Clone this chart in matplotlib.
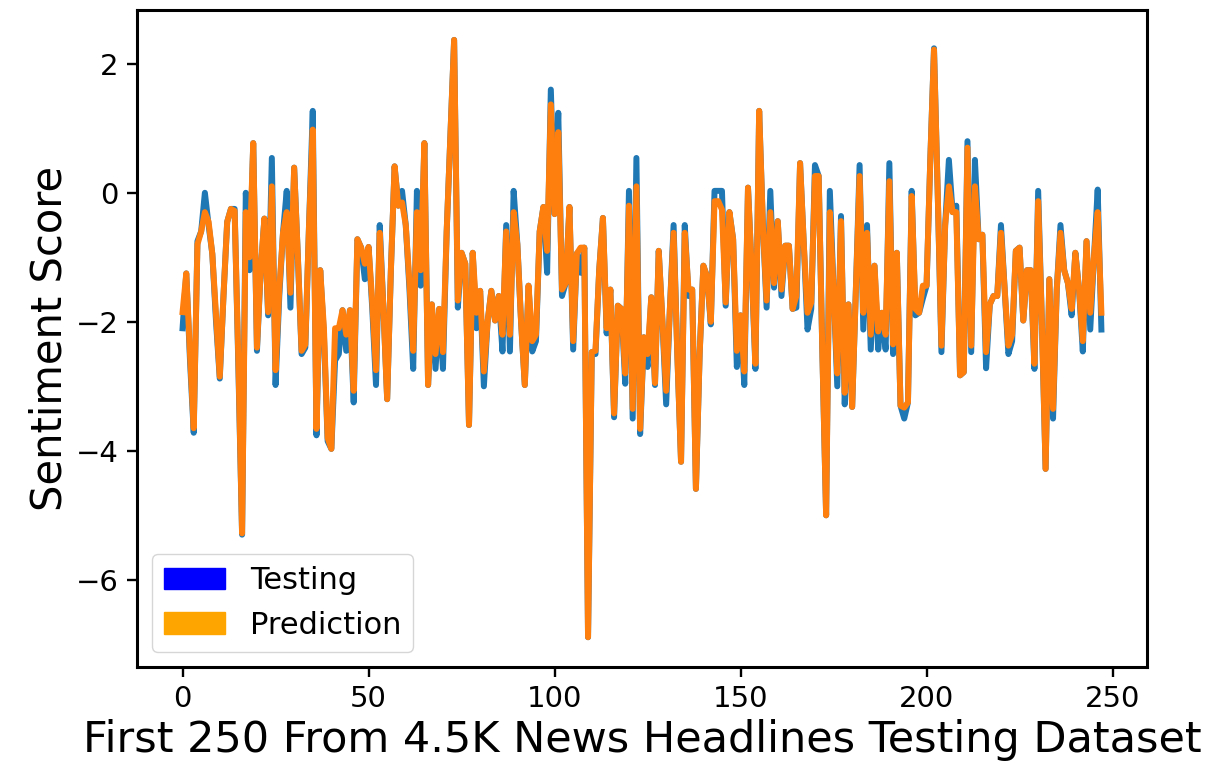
import matplotlib
matplotlib.use("Agg")
import matplotlib.pyplot as plt
import matplotlib.patches as mpatches

# sentiment scores of the first headlines of the testing set
testing = [
    -2.1, -1.25, -2.6, -3.72, -0.75, -0.6, 0.0, -0.5, -0.95, -2.0,
    -2.88, -1.6, -0.45, -0.25, -0.25, -2.7, -5.3, 0.0, -1.2, 0.77,
    -2.45, -1.2, -0.4, -1.9, 0.54, -2.98, -1.6, -0.62, 0.03, -1.78,
    0.39, -1.0, -2.5, -2.4, -0.5, 1.27, -3.76, -1.2, -2.2, -3.85,
    -3.97, -2.6, -2.5, -1.82, -2.45, -1.82, -3.25, -0.72, -0.85, -1.34,
    -0.84, -1.8, -2.98, -0.5, -1.8, -3.2, -1.2, 0.41, -0.2, 0.03,
    -0.5, -1.5, -2.73, 0.03, -1.44, 0.77, -2.98, -1.73, -2.73, -1.8,
    -2.73, -0.6, 0.9, 2.37, -1.78, -0.93, -1.1, -3.6, -0.93, -2.1,
    -1.52, -3.0, -2.0, -1.52, -1.98, -1.6, -2.46, -0.5, -2.46, 0.03,
    -0.8, -2.0, -2.98, -1.44, -2.46, -2.3, -0.6, -0.22, -1.24, 1.6,
    -0.33, 1.24, -1.6, -1.4, -0.22, -2.43, -0.94, -1.24, -0.85, -6.89,
    -2.47, -2.5, -1.2, -0.39, -2.18, -1.5, -3.48, -1.75, -1.8, -2.96,
    0.03, -3.5, 0.54, -3.74, -2.24, -2.7, -1.62, -2.98, -0.9, -2.0,
    -3.28, -1.8, -0.5, -2.5, -4.17, -0.5, -1.6, -1.5, -4.59, -2.5,
    -1.13, -1.3, -2.04, 0.03, 0.03, 0.03, -1.75, -0.3, -0.72, -2.7,
    -1.9, -2.98, 0.08, -1.2, -2.73, 1.27, -0.5, -1.78, 0.03, -1.47,
    -0.44, -1.6, -0.82, -0.82, -1.8, -1.78, 0.46, -0.8, -2.12, -1.8,
    0.43, 0.26, -2.5, -5.0, 0.03, -1.5, -3.0, -0.36, -3.28, -1.73,
    -3.32, -1.5, 0.43, -2.12, -0.5, -2.43, -1.13, -2.43, -1.86, -2.43,
    0.46, -2.5, -0.93, -3.3, -3.5, -3.25, 0.03, -1.9, -1.86, -1.64,
    -1.44, 0.5, 2.24, 0.0, -2.47, -0.5, 0.51, -0.3, -0.2, -2.83,
    -2.78, 0.8, -2.47, 0.51, -0.72, -0.65, -2.72, -1.73, -1.6, -1.6,
    -0.5, -1.5, -2.5, -2.3, -0.9, -0.85, -1.98, -1.2, -1.2, -2.73,
    0.03, -2.0, -4.28, -1.34, -3.5, -1.5, -0.5, -1.2, -1.4, -1.9,
    -0.93, -1.5, -2.46, -0.75, -2.12, -1.0, 0.05, -2.12,
]

# model output for the same headlines
prediction = [
    -1.85, -1.25, -2.5, -3.65, -0.8, -0.6, -0.3, -0.45, -0.95, -1.9,
    -2.85, -1.6, -0.45, -0.25, -0.28, -2.6, -5.28, -0.3, -1.0, 0.77,
    -2.4, -1.2, -0.4, -1.85, 0.1, -2.75, -1.5, -0.62, -0.3, -1.55,
    0.39, -1.0, -2.45, -2.35, -0.5, 0.98, -3.66, -1.2, -2.1, -3.8,
    -3.97, -2.1, -2.1, -1.82, -2.2, -1.82, -3.07, -0.72, -0.85, -1.1,
    -0.84, -1.7, -2.75, -0.62, -1.8, -3.2, -1.2, 0.41, -0.2, -0.15,
    -0.5, -1.4, -2.45, -0.3, -1.2, 0.77, -2.98, -1.73, -2.5, -1.8,
    -2.47, -0.6, 0.9, 2.37, -1.67, -0.93, -1.1, -3.6, -0.93, -1.86,
    -1.52, -2.77, -2.0, -1.52, -1.98, -1.6, -2.2, -0.6, -2.2, -0.3,
    -0.8, -2.0, -2.98, -1.44, -2.3, -2.2, -0.6, -0.22, -0.9, 1.37,
    -0.33, 0.94, -1.5, -1.4, -0.22, -2.3, -0.94, -0.85, -0.85, -6.89,
    -2.47, -2.45, -1.2, -0.39, -2.1, -1.5, -3.42, -1.75, -1.8, -2.8,
    -0.2, -3.35, 0.1, -3.66, -2.24, -2.5, -1.62, -2.95, -0.9, -2.0,
    -3.07, -1.8, -0.62, -2.5, -4.17, -0.62, -1.5, -1.5, -4.59, -2.5,
    -1.13, -1.3, -2.0, -0.13, -0.13, -0.26, -1.7, -0.3, -0.72, -2.45,
    -1.9, -2.77, 0.08, -1.2, -2.65, 1.27, -0.5, -1.67, -0.3, -1.4,
    -0.44, -1.5, -0.82, -0.82, -1.8, -1.6, 0.46, -0.8, -1.86, -1.7,
    0.26, 0.26, -2.5, -5.0, -0.3, -1.5, -2.8, -0.44, -3.1, -1.73,
    -3.32, -1.5, 0.26, -1.86, -0.62, -2.2, -1.13, -2.15, -1.86, -2.2,
    0.18, -2.35, -0.93, -3.3, -3.33, -3.25, -0.05, -1.8, -1.86, -1.44,
    -1.44, 0.5, 2.22, 0.0, -2.37, -0.5, 0.1, -0.3, -0.3, -2.83,
    -2.78, 0.7, -2.37, 0.1, -0.72, -0.65, -2.47, -1.73, -1.6, -1.6,
    -0.62, -1.5, -2.37, -2.2, -0.9, -0.85, -1.98, -1.2, -1.2, -2.65,
    -0.13, -2.0, -4.28, -1.34, -3.35, -1.5, -0.62, -1.2, -1.4, -1.8,
    -0.93, -1.5, -2.3, -0.75, -1.86, -1.0, -0.3, -1.86,
]

fig = plt.figure(figsize=(12.09, 7.73), dpi=100)
ax = fig.add_axes([0.113, 0.137, 0.836, 0.850])

ax.plot(testing, color="#1f77b4", linewidth=4.3)
ax.plot(prediction, color="#ff7f0e", linewidth=4.3)

ax.set_xlabel("First 250 From 4.5K News Headlines Testing Dataset", fontsize=31)
ax.set_ylabel("Sentiment Score", fontsize=30)
ax.tick_params(labelsize=21, length=7, width=1.7, pad=6)
for spine in ax.spines.values():
    spine.set_linewidth(2.2)

handles = [
    mpatches.Patch(color="blue", label="Testing"),
    mpatches.Patch(color="orange", label="Prediction"),
]
ax.legend(handles=handles, loc="lower left", fontsize=22, framealpha=0.8)

fig.savefig("out.png", dpi=100)
